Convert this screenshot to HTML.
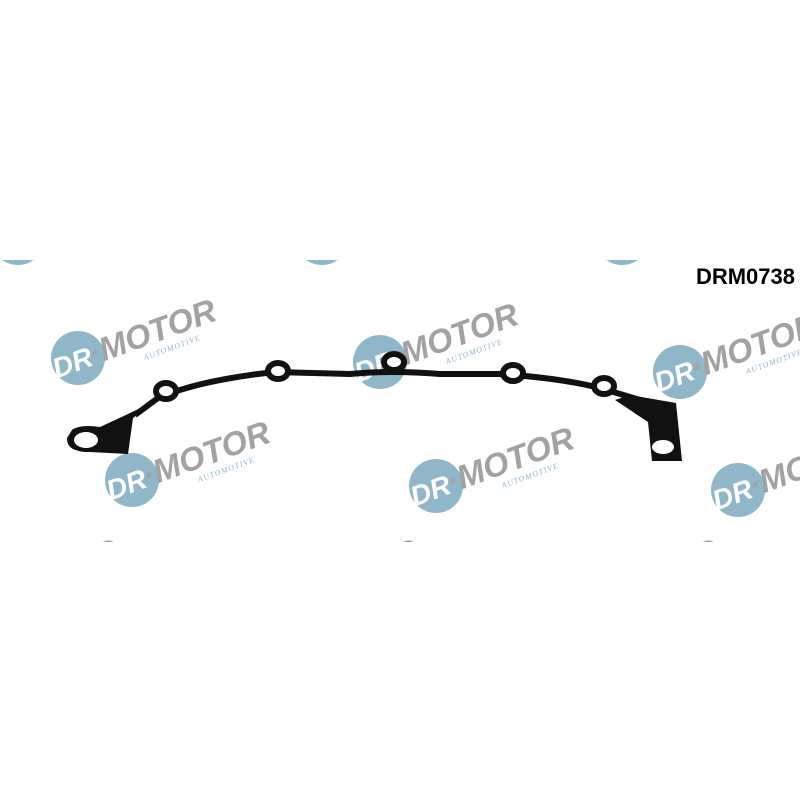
<!DOCTYPE html>
<html><head><style>
html,body{margin:0;padding:0;background:#fff;width:800px;height:800px;overflow:hidden}
</style></head><body>
<svg width="800" height="800" viewBox="0 0 800 800" xmlns="http://www.w3.org/2000/svg">
<defs>
<clipPath id="band"><rect x="0" y="260" width="800" height="282"/></clipPath>
<g id="logo">
  <circle cx="0" cy="0" r="27" fill="#8fb6c9"/>
  <g transform="rotate(-20)">
    <text x="-27" y="12" font-family="Liberation Sans" font-weight="bold" font-style="italic" font-size="28" fill="#fff">DR</text>
    <text x="12" y="12" font-family="Liberation Sans" font-weight="bold" font-style="italic" font-size="33" fill="#a2a2a2">·MOTOR</text>
    <text x="62" y="25" font-family="Liberation Serif" font-style="italic" font-size="8" fill="#8fb6c9" letter-spacing="1">AUTOMOTIVE</text>
  </g>
</g>
</defs>
<g clip-path="url(#band)">
  <use href="#logo" x="18" y="238"/>
  <use href="#logo" x="322" y="238"/>
  <use href="#logo" x="622" y="238"/>
  <use href="#logo" x="78" y="358"/>
  <use href="#logo" x="380" y="362"/>
  <use href="#logo" x="680" y="372"/>
  <use href="#logo" x="132" y="480"/>
  <use href="#logo" x="436" y="486"/>
  <use href="#logo" x="738" y="490"/>
  <use href="#logo" x="-20" y="598"/>
  <use href="#logo" x="280" y="598"/>
  <use href="#logo" x="580" y="598"/>
</g>
<text x="795" y="284" text-anchor="end" font-family="Liberation Sans" font-weight="bold" font-size="22" fill="#000">DRM0738</text>
<g fill="none" stroke="#111" stroke-width="6" stroke-linejoin="round">
  <path d="M135 415 L158 398 Q200 380 275 372 L350 374 Q390 370 440 374 L500 374 Q560 378 600 388 L640 400"/>
</g>
<path d="M72 430 Q80 424 100 427 L158 400 L133 418 L128 454 L90 452 Q66 452 67 438 Z" fill="#111"/>
<ellipse cx="86" cy="440" rx="17" ry="12" fill="#111"/>
<path d="M630 395 L676 403 L682 461 L652 461 L648 422 L615 400 Z" fill="#111"/>
<g fill="#fff" stroke="#111" stroke-width="6">
  <ellipse cx="166" cy="391" rx="10" ry="8"/>
  <ellipse cx="278" cy="371" rx="10" ry="8"/>
  <ellipse cx="394" cy="362" rx="10" ry="8"/>
  <ellipse cx="513" cy="373" rx="10" ry="8"/>
  <ellipse cx="604" cy="386" rx="10" ry="8"/>
</g>
<g fill="#fff" stroke="none">
  <ellipse cx="663" cy="447" rx="11" ry="7"/>
  <ellipse cx="86" cy="440" rx="12" ry="8"/>
</g>
</svg>
</body></html>
